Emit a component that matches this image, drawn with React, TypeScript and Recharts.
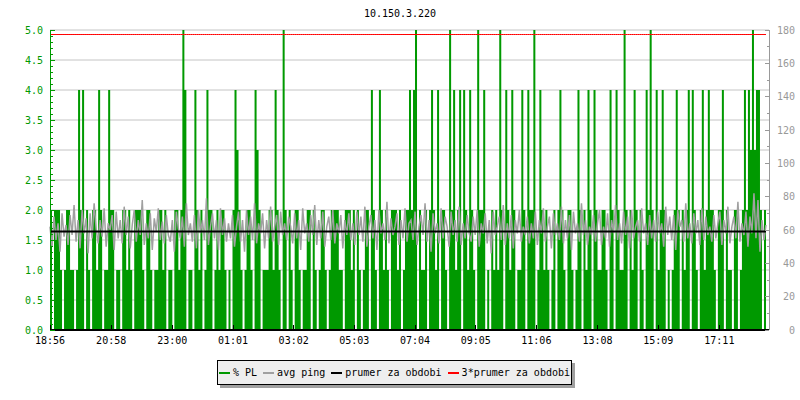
import React from 'react'
import { ComposedChart, Area, Line, XAxis, YAxis, CartesianGrid } from 'recharts'

const TITLE = '10.150.3.220'
const FONT = "'DejaVu Sans Mono', monospace"
const GREEN = '#009900'
const GREY = '#a0a0a0'

// x axis: minutes after 18:56, one sample every 4 minutes
const SAMPLE_MIN = 4
const X_END = 1434
const TIME_TICKS = [0, 122, 244, 365, 486, 607, 728, 849, 970, 1092, 1213, 1335]
const TIME_LABELS = ['18:56', '20:58', '23:00', '01:01', '03:02', '05:03', '07:04', '09:05', '11:06', '13:08', '15:09', '17:11']

const LEFT_MAJOR = [0, 0.5, 1, 1.5, 2, 2.5, 3, 3.5, 4, 4.5, 5]
const RIGHT_MAJOR = [0, 20, 40, 60, 80, 100, 120, 140, 160, 180]

// % packet loss per sample
const PL_VALUES = [
  2, 0, 2, 2, 2, 1, 0, 1, 2, 2, 1, 1, 0, 1, 4, 2, 4, 0, 2, 1, 0, 2, 2, 1, 4, 2, 0, 1, 1, 4,
  2, 2, 0, 1, 1, 0, 2, 2, 1, 2, 1, 0, 2, 2, 2, 2, 1, 0, 2, 2, 1, 0, 1, 1, 2, 2, 1, 2, 0, 1,
  1, 0, 2, 2, 1, 2, 5, 4, 0, 1, 1, 0, 4, 2, 1, 2, 0, 1, 4, 2, 2, 0, 1, 2, 1, 2, 2, 1, 0, 1,
  0, 2, 4, 3, 2, 1, 0, 1, 2, 2, 1, 0, 4, 3, 2, 0, 1, 1, 1, 2, 2, 1, 4, 2, 1, 0, 5, 2, 0, 2,
  1, 0, 2, 2, 1, 0, 1, 1, 2, 2, 0, 2, 1, 0, 1, 2, 2, 1, 0, 1, 2, 2, 2, 2, 1, 1, 0, 2, 2, 2,
  1, 2, 0, 2, 1, 0, 1, 2, 2, 0, 4, 2, 1, 0, 4, 2, 1, 2, 1, 0, 2, 2, 2, 1, 2, 0, 1, 2, 2, 4,
  2, 4, 5, 0, 2, 1, 1, 2, 0, 2, 4, 2, 1, 4, 0, 2, 2, 1, 0, 5, 2, 4, 1, 2, 4, 0, 4, 2, 1, 4,
  2, 1, 0, 5, 2, 2, 4, 0, 1, 0, 2, 1, 2, 1, 5, 2, 0, 4, 2, 1, 4, 2, 0, 1, 1, 4, 2, 0, 4, 2,
  2, 5, 0, 1, 4, 2, 1, 2, 1, 0, 1, 2, 0, 2, 4, 2, 1, 0, 2, 2, 1, 0, 1, 4, 2, 0, 2, 1, 4, 2,
  0, 4, 2, 1, 1, 2, 2, 1, 0, 4, 2, 0, 4, 2, 1, 1, 5, 2, 0, 2, 1, 4, 2, 0, 2, 1, 0, 4, 2, 5,
  2, 0, 4, 1, 2, 4, 2, 0, 1, 0, 1, 2, 4, 2, 0, 2, 1, 2, 4, 0, 4, 2, 1, 0, 2, 4, 1, 2, 4, 2,
  2, 1, 0, 2, 2, 4, 0, 2, 1, 1, 0, 2, 2, 0, 1, 2, 4, 2, 4, 3, 5, 3, 4, 4, 2, 0, 2, 4,
]

// avg ping in ms per sample
const PING_VALUES = [
  62, 50, 68, 54, 64, 47, 70, 56, 63, 51, 69, 57, 75, 53, 66, 49, 72, 58, 67, 46, 70, 55, 76, 61, 52, 66, 56, 73, 50, 64,
  60, 69, 48, 71, 55, 66, 52, 74, 57, 68, 49, 63, 72, 53, 66, 57, 78, 51, 64, 55, 70, 48, 67, 59, 73, 54, 65, 52, 69, 57,
  53, 66, 47, 71, 61, 55, 68, 50, 76, 57, 64, 53, 69, 49, 72, 58, 66, 54, 79, 51, 62, 70, 55, 66, 48, 73, 57, 67, 53, 64,
  55, 69, 50, 62, 71, 53, 66, 47, 72, 57, 68, 54, 76, 52, 64, 58, 70, 49, 66, 55, 74, 53, 62, 69, 51, 71, 57, 64, 54, 68,
  62, 52, 70, 55, 66, 48, 73, 58, 64, 53, 69, 57, 75, 51, 66, 55, 71, 50, 62, 68, 54, 72, 52, 64, 58, 69, 49, 66, 57, 70,
  54, 64, 51, 71, 57, 68, 53, 74, 50, 62, 69, 55, 66, 48, 72, 58, 64, 54, 77, 52, 67, 57, 62, 70, 51, 66, 55, 73, 53, 64,
  66, 54, 71, 51, 62, 69, 57, 76, 53, 66, 47, 70, 58, 64, 52, 73, 55, 68, 62, 50, 71, 57, 66, 53, 74, 51, 64, 55, 69, 58,
  53, 68, 57, 72, 50, 64, 58, 70, 52, 66, 46, 71, 57, 62, 68, 54, 75, 51, 64, 55, 69, 49, 66, 58, 72, 53, 62, 57, 68, 52,
  64, 55, 71, 51, 66, 58, 73, 53, 62, 68, 49, 70, 57, 64, 54, 74, 52, 66, 55, 69, 48, 71, 58, 64, 53, 76, 57, 66, 51, 62,
  57, 69, 53, 64, 72, 51, 62, 55, 70, 50, 66, 58, 75, 54, 64, 52, 71, 57, 68, 49, 72, 55, 62, 66, 53, 73, 58, 64, 51, 69,
  55, 66, 53, 71, 58, 64, 50, 74, 57, 68, 54, 69, 48, 72, 62, 66, 53, 76, 55, 64, 52, 70, 58, 66, 51, 73, 54, 68, 57, 62,
  53, 69, 55, 64, 71, 51, 66, 58, 74, 52, 62, 68, 55, 77, 53, 64, 57, 71, 50, 68, 58, 82, 55, 78, 47, 66, 54, 63,
]

const AVG_PING = 59.1

const LEGEND_ITEMS = [
  { label: '% PL', color: GREEN },
  { label: 'avg ping', color: GREY },
  { label: 'prumer za obdobi', color: '#000000' },
  { label: '3*prumer za obdobi', color: '#ff0000' },
]

const data = PL_VALUES.map((pl, k) => ({
  t: k * SAMPLE_MIN,
  pl,
  ping: PING_VALUES[k],
  avg: AVG_PING,
  avg3: 3 * AVG_PING,
}))

const leftTicks = Array.from({ length: 51 }, (_, i) => i / 10)
const rightTicks = Array.from({ length: 19 }, (_, i) => i * 10)

const LeftTick = ({ x, y, payload }: any) => {
  const v = payload.value
  const major = LEFT_MAJOR.some((m) => Math.abs(m - v) < 1e-6)
  return (
    <g>
      <line x1={x} x2={x + (major ? 5 : 3)} y1={y} y2={y} stroke={GREEN} shapeRendering="crispEdges" />
      {major && (
        <text x={x - 7} y={y} dy="0.35em" textAnchor="end" fill={GREEN} fontSize={10} fontFamily={FONT}>
          {v.toFixed(1)}
        </text>
      )}
    </g>
  )
}

const RightTick = ({ x, y, payload }: any) => {
  const v = payload.value
  const major = RIGHT_MAJOR.includes(v)
  return (
    <g>
      <line x1={x - (major ? 4 : 2)} x2={x} y1={y} y2={y} stroke="#999" shapeRendering="crispEdges" />
      {major && (
        <text x={x + 26} y={y} dy="0.35em" textAnchor="end" fill="#999" fontSize={10} fontFamily={FONT}>
          {v}
        </text>
      )}
    </g>
  )
}

const TimeTick = ({ x, y, payload }: any) => {
  const idx = TIME_TICKS.indexOf(payload.value)
  return (
    <g>
      <line x1={x} x2={x} y1={y} y2={y - 5} stroke="#000" shapeRendering="crispEdges" />
      <text x={x} y={y + 14} textAnchor="middle" fill="#000" fontSize={10} fontFamily={FONT}>
        {TIME_LABELS[idx]}
      </text>
    </g>
  )
}

export default function App() {
  return (
    <div style={{ position: 'absolute', left: 0, top: 0, width: 800, height: 400, background: '#fff' }}>
      <div
        style={{
          position: 'absolute',
          top: 8,
          left: 0,
          width: 800,
          textAlign: 'center',
          fontFamily: FONT,
          fontSize: 10,
          lineHeight: '12px',
        }}
      >
        {TITLE}
      </div>

      <ComposedChart width={800} height={400} data={data} margin={{ top: 30, right: 1, bottom: 50, left: 10 }}>
        <CartesianGrid
          yAxisId="left"
          vertical={false}
          horizontalValues={LEFT_MAJOR}
          stroke="#c4c4c4"
        />
        <XAxis
          dataKey="t"
          type="number"
          domain={[0, X_END]}
          ticks={TIME_TICKS}
          interval={0}
          height={20}
          tickSize={0}
          tickMargin={0}
          tickLine={false}
          tick={<TimeTick />}
          axisLine={{ stroke: '#000', strokeWidth: 2 }}
        />
        <YAxis
          yAxisId="left"
          orientation="left"
          domain={[0, 5]}
          ticks={leftTicks}
          interval={0}
          width={40}
          tickSize={0}
          tickMargin={0}
          tickLine={false}
          tick={<LeftTick />}
          axisLine={{ stroke: GREEN, shapeRendering: 'crispEdges' }}
        />
        <YAxis
          yAxisId="right"
          orientation="right"
          domain={[0, 180]}
          ticks={rightTicks}
          interval={0}
          width={30}
          allowDataOverflow
          tickSize={0}
          tickMargin={0}
          tickLine={false}
          tick={<RightTick />}
          axisLine={{ stroke: '#999', shapeRendering: 'crispEdges' }}
        />
        <Area
          yAxisId="left"
          dataKey="pl"
          type="stepAfter"
          fill={GREEN}
          fillOpacity={1}
          stroke="none"
          dot={false}
          activeDot={false}
          isAnimationActive={false}
        />
        <Line
          yAxisId="right"
          dataKey="ping"
          type="linear"
          stroke={GREY}
          strokeWidth={1.5}
          dot={false}
          activeDot={false}
          isAnimationActive={false}
        />
        <Line
          yAxisId="right"
          dataKey="avg"
          stroke="#000"
          strokeWidth={2}
          dot={false}
          activeDot={false}
          isAnimationActive={false}
        />
        <Line
          yAxisId="right"
          dataKey="avg3"
          stroke="#ff0000"
          strokeWidth={1}
          dot={false}
          activeDot={false}
          isAnimationActive={false}
        />
      </ComposedChart>

      <div
        style={{
          position: 'absolute',
          left: 217,
          top: 360,
          width: 353,
          height: 23,
          border: '1px solid #000',
          background: '#eeeeee',
          boxShadow: '3px 3px 0 #a0a0a0',
          display: 'flex',
          alignItems: 'center',
          justifyContent: 'center',
          fontFamily: FONT,
          fontSize: 10,
          whiteSpace: 'nowrap',
        }}
      >
        {LEGEND_ITEMS.map((item, i) => (
          <span key={item.label} style={{ display: 'flex', alignItems: 'center', marginLeft: i === 0 ? 0 : 6 }}>
            <span style={{ display: 'inline-block', width: 11, height: 2, background: item.color, marginRight: 3 }} />
            <span>{item.label}</span>
          </span>
        ))}
      </div>
    </div>
  )
}
